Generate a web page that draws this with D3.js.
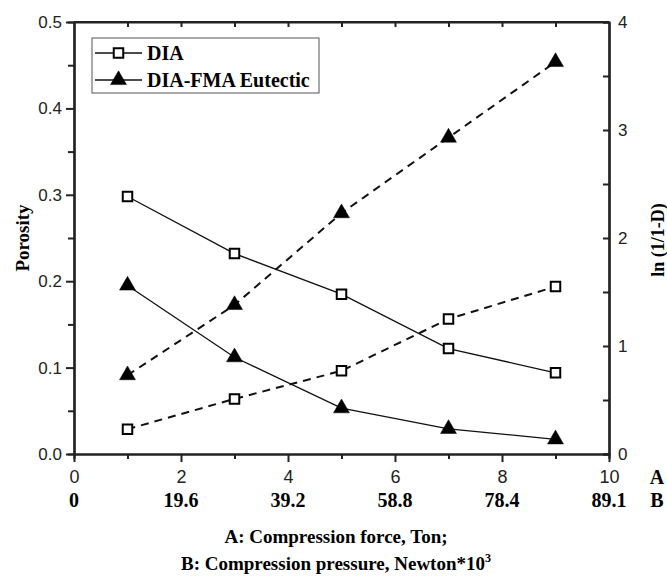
<!DOCTYPE html>
<html>
<head>
<meta charset="utf-8">
<script src="https://cdn.jsdelivr.net/npm/d3@7"></script>
<style>
  body { margin: 0; background: #fff; }
  .tick text { font-family: "Liberation Sans", Arial, sans-serif; }
</style>
</head>
<body>
<svg width="667" height="577"></svg>
<script>
// Data
const force = [1, 3, 5, 7, 9];
const diaPorosity = [0.298, 0.232, 0.185, 0.122, 0.094];
const eutPorosity = [0.195, 0.112, 0.053, 0.029, 0.017];
const diaLn = [0.23, 0.51, 0.77, 1.25, 1.55];
const eutLn = [0.73, 1.38, 2.23, 2.93, 3.63];
const forceTicks = [0, 2, 4, 6, 8, 10];
const pressureLabels = ['0', '19.6', '39.2', '58.8', '78.4', '89.1'];

const svg = d3.select('svg');
const serif = '"Liberation Serif", "Times New Roman", serif';

// Scales
const x = d3.scaleLinear().domain([0, 10]).range([74, 609]);
const yL = d3.scaleLinear().domain([0, 0.5]).range([454, 22]);
const yR = d3.scaleLinear().domain([0, 4]).range([454, 22]);

// Minor ticks first so the major ones sit on top
svg.append('g')
  .attr('transform', 'translate(74,0)')
  .call(d3.axisLeft(yL).tickValues(d3.range(0.05, 0.5, 0.1)).tickSize(6).tickFormat(''));
svg.append('g')
  .attr('transform', 'translate(609,0)')
  .call(d3.axisRight(yR).tickValues(d3.range(0.5, 4, 1)).tickSize(-6).tickFormat(''));
svg.append('g')
  .attr('transform', 'translate(0,454)')
  .call(d3.axisBottom(x).tickValues(d3.range(1, 10, 2)).tickSize(5).tickFormat(''));
// Top axis, ticks inside
svg.append('g')
  .attr('transform', 'translate(0,22)')
  .call(d3.axisTop(x).tickValues(d3.range(1, 10, 1)).tickSize(-5).tickFormat('').tickSizeOuter(0));

// Left axis
svg.append('g')
  .attr('transform', 'translate(74,0)')
  .call(d3.axisLeft(yL).tickValues(d3.range(0, 0.51, 0.1)).tickSize(8).tickPadding(4)
    .tickFormat(d3.format('.1f')).tickSizeOuter(0))
  .call(g => g.selectAll('text').attr('font-size', 17).attr('fill', '#222'));

// Right axis
svg.append('g')
  .attr('transform', 'translate(609,0)')
  .call(d3.axisRight(yR).tickValues([0, 1, 2, 3, 4]).tickSize(-6).tickPadding(9)
    .tickFormat(d3.format('d')).tickSizeOuter(0))
  .call(g => g.selectAll('text').attr('font-size', 17).attr('fill', '#222'));

// Bottom axis (A: force)
svg.append('g')
  .attr('transform', 'translate(0,454)')
  .call(d3.axisBottom(x).tickValues(forceTicks).tickSize(8).tickPadding(8).tickSizeOuter(0))
  .call(g => g.selectAll('text').attr('font-size', 18).attr('fill', '#222'));

svg.selectAll('.domain, .tick line').attr('stroke', '#222').attr('stroke-width', 2);
svg.selectAll('.domain').attr('stroke-width', 2.2);

// Second row of labels (B: pressure)
svg.append('g').selectAll('text')
  .data(forceTicks)
  .join('text')
  .attr('x', d => x(d))
  .attr('y', 507)
  .attr('text-anchor', 'middle')
  .attr('font-family', serif)
  .attr('font-weight', 'bold')
  .attr('font-size', 20)
  .text((d, i) => pressureLabels[i]);

svg.append('text').attr('x', 657).attr('y', 484).attr('text-anchor', 'middle')
  .attr('font-family', serif).attr('font-weight', 'bold').attr('font-size', 20).text('A');
svg.append('text').attr('x', 657).attr('y', 507).attr('text-anchor', 'middle')
  .attr('font-family', serif).attr('font-weight', 'bold').attr('font-size', 20).text('B');

// Axis titles
svg.append('text')
  .attr('transform', 'translate(29,238) rotate(-90)')
  .attr('text-anchor', 'middle')
  .attr('font-family', serif).attr('font-weight', 'bold').attr('font-size', 19)
  .text('Porosity');
svg.append('text')
  .attr('transform', 'translate(664,240) rotate(-90)')
  .attr('text-anchor', 'middle')
  .attr('font-family', serif).attr('font-weight', 'bold').attr('font-size', 18)
  .text('ln (1/1-D)');

svg.append('text')
  .attr('x', 336).attr('y', 543).attr('text-anchor', 'middle')
  .attr('font-family', serif).attr('font-weight', 'bold').attr('font-size', 19)
  .text('A: Compression force, Ton;');
const t2 = svg.append('text')
  .attr('x', 336).attr('y', 570).attr('text-anchor', 'middle')
  .attr('font-family', serif).attr('font-weight', 'bold').attr('font-size', 19);
t2.append('tspan').text('B: Compression pressure, Newton*10');
t2.append('tspan').attr('dy', -8).attr('font-size', 12).text('3');

// Series
const series = [
  { y: yL, values: diaPorosity, dash: null, shape: 'square' },
  { y: yL, values: eutPorosity, dash: null, shape: 'triangle' },
  { y: yR, values: diaLn, dash: '8,6', shape: 'square' },
  { y: yR, values: eutLn, dash: '8,6', shape: 'triangle' }
];

const square = d3.symbol(d3.symbolSquare, 90);
const triangle = d3.symbol(d3.symbolTriangle, 110);

series.forEach(s => {
  const pts = force.map((f, i) => [x(f), s.y(s.values[i])]);
  svg.append('path')
    .attr('d', d3.line()(pts))
    .attr('fill', 'none')
    .attr('stroke', '#111')
    .attr('stroke-width', s.dash ? 2 : 1.3)
    .attr('stroke-dasharray', s.dash);
  svg.append('g').selectAll('path')
    .data(pts)
    .join('path')
    .attr('transform', d => `translate(${d[0]},${d[1]})`)
    .attr('d', s.shape === 'square' ? square : triangle)
    .attr('fill', s.shape === 'square' ? '#fff' : '#000')
    .attr('stroke', '#000')
    .attr('stroke-width', s.shape === 'square' ? 2 : 0.5);
});

// Frame top
svg.append('line').attr('x1', 74).attr('x2', 609).attr('y1', 22).attr('y2', 22)
  .attr('stroke', '#222').attr('stroke-width', 2.2);

// Legend
const legend = svg.append('g');
legend.append('rect')
  .attr('x', 92).attr('y', 38).attr('width', 227).attr('height', 55)
  .attr('fill', '#fff').attr('stroke', '#555').attr('stroke-width', 1);
const legendItems = [
  { label: 'DIA', shape: 'square', y: 53 },
  { label: 'DIA-FMA Eutectic', shape: 'triangle', y: 80 }
];
legendItems.forEach(it => {
  legend.append('line').attr('x1', 95).attr('x2', 142).attr('y1', it.y).attr('y2', it.y)
    .attr('stroke', '#111').attr('stroke-width', 1.3);
  legend.append('path')
    .attr('transform', `translate(118.5,${it.y})`)
    .attr('d', it.shape === 'square' ? square : triangle)
    .attr('fill', it.shape === 'square' ? '#fff' : '#000')
    .attr('stroke', '#000')
    .attr('stroke-width', it.shape === 'square' ? 2 : 0.5);
  legend.append('text')
    .attr('x', 147).attr('y', it.y + 7)
    .attr('font-family', serif).attr('font-weight', 'bold').attr('font-size', 20)
    .text(it.label);
});
</script>
</body>
</html>
